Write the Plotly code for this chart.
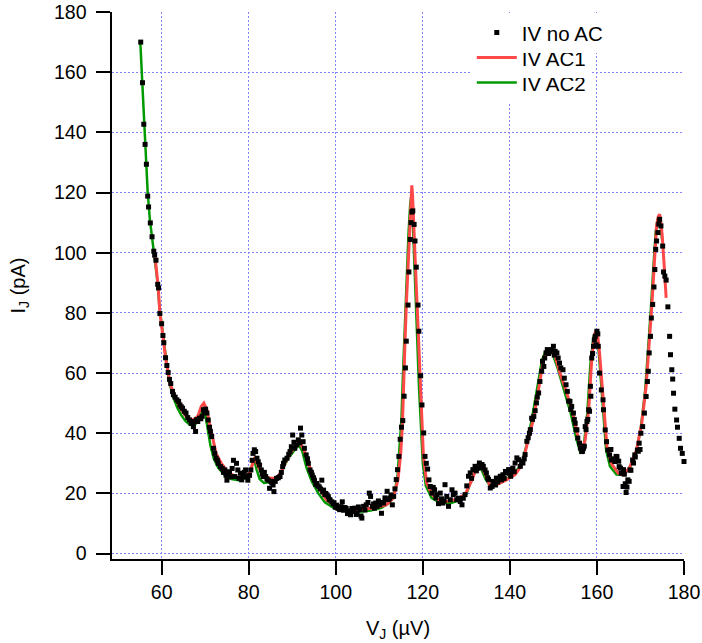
import plotly.graph_objects as go

# ---- IV no AC (measured points) ----
v_noac = [55.2, 55.6, 55.9, 56.2, 56.5, 56.8, 57.0, 57.4, 57.8, 58.2, 58.4, 58.7, 59.1, 59.3, 59.6,
          60.0, 60.3, 60.5, 60.9, 61.2, 61.5, 61.8, 62.1, 62.5, 62.7, 63.1, 63.5, 63.9, 64.2, 64.5,
          64.8, 65.2, 65.6, 66.0, 66.4, 66.8, 67.1, 67.3, 67.5, 67.8, 68.0, 68.3, 68.7, 69.0, 69.3,
          69.6, 69.8, 70.1, 70.4, 70.7, 71.0, 71.2, 71.5, 71.9, 72.2, 72.5, 72.8, 73.0, 73.5, 73.9,
          74.2, 74.5, 74.8, 75.0, 75.3, 75.6, 75.9, 76.2, 76.5, 76.8, 77.2, 77.5, 77.8, 78.1, 78.4,
          78.7, 79.0, 79.3, 79.6, 79.8, 80.2, 80.5, 80.8, 81.0, 81.3, 81.6, 81.9, 82.2, 82.5, 82.9,
          83.1, 83.3, 83.6, 83.9, 84.2, 84.5, 84.8, 85.1, 85.3, 85.6, 85.8, 86.1, 86.4, 86.8, 87.2,
          87.5, 87.8, 88.0, 88.3, 88.8, 89.2, 89.5, 89.8, 90.1, 90.4, 90.6, 91.0, 91.4, 91.7, 91.9,
          92.2, 92.5, 92.8, 93.2, 93.5, 93.7, 94.1, 94.4, 94.6, 94.9, 95.1, 95.4, 95.6, 95.9, 96.2,
          96.5, 96.8, 97.0, 97.2, 97.5, 97.7, 98.0, 98.3, 98.5, 98.7, 99.1, 99.4, 99.6, 99.9, 100.2,
          100.5, 100.9, 101.2, 101.5, 101.8, 102.1, 102.4, 102.7, 103.0, 103.4, 103.7, 104.0, 104.4, 104.7, 104.9,
          105.2, 105.5, 105.8, 106.0, 106.4, 106.7, 107.0, 107.4, 107.7, 108.0, 108.4, 108.7, 108.9, 109.2, 109.5,
          109.8, 110.1, 110.5, 110.8, 111.0, 111.3, 111.5, 111.8, 112.1, 112.4, 112.7, 113.0, 113.3, 113.6, 113.9,
          114.2, 114.5, 114.8, 115.1, 115.4, 115.7, 116.0, 116.2, 116.6, 116.8, 117.1, 117.3, 117.5, 117.7, 118.0,
          118.2, 118.5, 118.9, 119.1, 119.5, 119.8, 120.2, 120.5, 120.8, 121.1, 121.4, 121.7, 122.1, 122.4, 122.7,
          123.0, 123.2, 123.6, 124.0, 124.3, 124.6, 124.9, 125.1, 125.5, 125.9, 126.3, 126.7, 127.0, 127.4, 127.8,
          128.2, 128.6, 129.0, 129.3, 129.7, 130.1, 130.5, 130.9, 131.2, 131.5, 132.0, 132.3, 132.6, 133.0, 133.3,
          133.6, 133.9, 134.3, 134.6, 134.9, 135.1, 135.5, 135.9, 136.1, 136.4, 136.7, 136.9, 137.2, 137.4, 137.8,
          138.1, 138.4, 138.7, 139.0, 139.3, 139.7, 140.0, 140.2, 140.5, 140.7, 141.0, 141.2, 141.6, 142.0, 142.4,
          142.7, 143.0, 143.3, 143.5, 143.9, 144.2, 144.5, 144.7, 145.0, 145.2, 145.5, 145.8, 146.1, 146.3, 146.6,
          146.9, 147.3, 147.5, 147.8, 148.0, 148.3, 148.6, 148.9, 149.2, 149.6, 150.0, 150.2, 150.4, 150.8, 151.1,
          151.4, 151.7, 152.2, 152.5, 152.9, 153.2, 153.5, 153.8, 154.0, 154.2, 154.6, 154.8, 155.0, 155.2, 155.4,
          155.6, 156.0, 156.2, 156.5, 156.7, 156.9, 157.1, 157.3, 157.5, 157.7, 157.9, 158.1, 158.3, 158.5, 158.6,
          158.8, 159.0, 159.2, 159.4, 159.6, 159.8, 160.0, 160.2, 160.3, 160.6, 161.0, 161.4, 161.5, 161.9, 162.2,
          162.5, 162.9, 163.2, 163.3, 163.7, 164.1, 164.4, 164.6, 165.0, 165.1, 165.4, 165.6, 166.0, 166.1, 166.3,
          166.5, 166.7, 166.9, 167.1, 167.4, 167.6, 167.8, 168.2, 168.4, 168.7, 168.8, 169.3, 169.5, 169.7, 169.9,
          170.1, 170.5, 170.9, 171.3, 171.6, 171.8, 172.0, 172.3, 172.5, 172.8, 173.1, 173.3, 173.5, 173.7, 174.0,
          174.2, 174.4, 174.7, 175.1, 175.3, 175.6, 175.9, 176.3, 176.7, 176.9, 177.2, 177.4, 177.6, 177.9, 178.3,
          178.5, 178.9, 179.2, 179.6, 180.0]
i_noac = [170.0, 156.5, 142.7, 136.0, 129.4, 118.8, 115.2, 109.9, 105.3, 100.5, 99.2, 97.5, 89.5, 88.3, 79.8,
          76.4, 72.5, 70.1, 65.1, 62.5, 60.2, 57.9, 56.5, 53.9, 52.8, 52.0, 51.1, 50.6, 49.4, 48.8,
          48.3, 47.3, 46.7, 45.2, 44.4, 43.3, 43.9, 42.2, 43.9, 40.6, 44.5, 43.9, 45.0, 44.8, 45.6,
          47.8, 47.2, 48.0, 46.7, 44.4, 42.0, 40.6, 38.9, 35.0, 33.3, 31.7, 31.0, 30.0, 28.9, 28.3,
          27.0, 27.8, 26.0, 24.4, 26.5, 27.2, 25.5, 28.3, 31.0, 25.6, 30.0, 27.8, 25.0, 26.7, 24.5,
          25.6, 27.0, 27.8, 25.5, 24.4, 26.0, 27.8, 31.0, 33.3, 34.5, 33.9, 31.7, 30.5, 29.4, 27.8,
          26.5, 25.6, 27.0, 25.6, 24.8, 24.4, 21.7, 24.0, 23.5, 22.8, 20.6, 24.0, 25.0, 25.2, 25.6,
          27.0, 28.9, 30.0, 31.1, 31.7, 33.0, 33.9, 35.5, 39.4, 37.0, 35.0, 36.1, 37.8, 36.8, 41.7,
          39.4, 37.2, 35.0, 32.8, 31.5, 30.0, 27.8, 27.0, 26.1, 25.2, 24.4, 23.0, 23.3, 22.5, 22.2,
          21.5, 24.4, 20.5, 21.1, 19.6, 20.0, 19.5, 18.9, 18.0, 17.8, 17.2, 16.5, 16.9, 15.4, 16.1,
          15.0, 14.6, 15.6, 17.2, 14.4, 15.3, 15.0, 13.3, 14.2, 12.9, 15.0, 14.0, 15.1, 13.0, 13.4,
          15.5, 14.6, 12.5, 11.8, 15.7, 14.5, 16.2, 17.0, 20.1, 19.0, 15.7, 16.5, 15.1, 16.8, 15.7,
          17.5, 16.2, 13.4, 17.0, 16.8, 18.5, 17.9, 20.7, 18.0, 18.4, 19.5, 16.2, 19.0, 21.5, 24.6,
          27.9, 32.3, 38.0, 42.0, 44.2, 52.3, 61.7, 70.6, 82.6, 93.6, 104.4, 110.0, 113.5, 113.9, 109.4,
          103.9, 95.2, 82.6, 73.9, 59.1, 49.4, 40.1, 32.3, 30.0, 28.1, 24.5, 22.3, 20.1, 22.0, 21.2,
          18.5, 19.6, 16.6, 20.1, 18.2, 16.8, 17.5, 22.9, 19.0, 15.7, 17.9, 21.2, 19.6, 20.1, 17.9,
          18.4, 17.3, 16.2, 18.4, 19.6, 22.5, 25.7, 26.8, 25.0, 27.9, 29.0, 27.5, 28.4, 30.1, 28.5,
          29.6, 29.0, 27.8, 26.8, 25.2, 24.6, 21.8, 22.3, 24.0, 23.4, 22.8, 25.1, 23.8, 24.6, 25.7,
          24.5, 26.2, 25.0, 27.3, 26.8, 27.9, 26.5, 25.7, 28.0, 28.4, 27.2, 30.1, 31.8, 31.2, 29.0,
          30.5, 30.1, 31.5, 32.9, 37.3, 38.5, 40.0, 41.2, 45.0, 44.6, 45.6, 47.5, 50.1, 52.0, 53.4,
          57.2, 60.6, 63.9, 62.2, 65.0, 66.7, 67.8, 66.5, 67.2, 67.8, 68.9, 66.0, 67.2, 66.7, 65.0,
          63.3, 61.7, 61.1, 58.3, 56.1, 53.9, 50.7, 50.6, 47.9, 48.9, 46.7, 44.6, 43.3, 41.2, 41.1,
          38.4, 36.7, 35.1, 33.9, 34.0, 35.0, 35.7, 42.2, 41.2, 43.9, 44.6, 47.8, 47.3, 55.6, 52.3,
          65.0, 66.5, 68.9, 71.0, 72.2, 69.4, 73.9, 73.0, 68.9, 60.0, 54.4, 51.1, 47.8, 41.1, 37.2,
          34.4, 32.8, 34.6, 31.1, 31.5, 30.6, 32.3, 32.2, 30.7, 28.9, 28.4, 26.7, 22.3, 27.9, 26.4,
          23.2, 20.3, 22.1, 24.5, 24.0, 27.8, 27.7, 31.1, 30.1, 32.8, 32.1, 34.4, 34.0, 36.7, 34.6,
          40.0, 42.2, 46.7, 52.2, 57.2, 60.6, 66.7, 72.2, 78.3, 82.8, 88.6, 94.4, 101.1, 103.9, 106.7,
          109.5, 111.1, 108.9, 102.2, 93.6, 92.2, 90.9, 82.0, 72.2, 66.1, 61.1, 58.0, 53.3, 48.0, 44.4,
          42.0, 38.3, 35.0, 33.3, 30.6]

# ---- IV AC1 (red fit) ----
v_ac1 = [58.5, 59.2, 59.6, 60.0, 60.5, 60.9, 61.4, 62.0, 62.5, 63.2, 64.1, 65.0, 65.6, 66.4, 67.2,
         68.3, 69.1, 69.7, 70.4, 71.0, 71.8, 72.5, 73.7, 75.2, 76.8, 78.7, 80.2, 81.4, 82.2, 83.3,
         84.8, 86.4, 87.5, 88.7, 89.8, 91.0, 91.8, 92.7, 93.7, 94.8, 96.4, 97.9, 100.2, 102.5, 104.5,
         107.0, 109.0, 111.6, 113.2, 114.3, 114.9, 115.3, 115.6, 115.9, 116.2, 116.55, 117.0, 117.3, 117.47, 117.65,
         117.8, 118.2, 118.5, 118.9, 119.3, 119.7, 120.15, 120.9, 122.1, 123.6, 125.5, 127.8, 129.7, 131.3, 132.3,
         132.8, 133.3, 133.9, 135.5, 137.0, 139.3, 141.2, 142.8, 143.9, 145.4, 146.6, 147.7, 148.5, 149.2, 150.4,
         151.5, 153.1, 154.6, 155.8, 156.5, 157.3, 158.1, 158.8, 159.4, 159.85, 160.2, 160.6, 161.2, 161.8, 162.3,
         163.3, 164.9, 166.2, 167.6, 169.1, 170.3, 171.3, 172.0, 172.6, 173.2, 173.7, 174.1, 174.4, 174.7, 175.0,
         175.4, 175.9]
i_ac1 = [98.5, 89.0, 80.0, 76.0, 70.0, 65.0, 60.5, 56.0, 54.4, 51.5, 48.9, 46.8, 45.6, 44.8, 44.4,
         45.6, 48.9, 50.0, 47.8, 43.3, 37.8, 33.3, 30.0, 27.2, 25.6, 25.0, 26.7, 32.0, 28.9, 26.1,
         25.0, 25.0, 27.2, 31.1, 33.9, 36.1, 36.9, 34.4, 30.0, 25.6, 21.1, 17.8, 15.6, 14.6, 14.3,
         14.8, 15.2, 16.2, 18.4, 24.6, 33.0, 42.2, 53.3, 70.0, 82.2, 94.4, 108.9, 118.0, 122.4, 119.0,
         114.4, 102.2, 88.9, 75.6, 60.0, 44.4, 32.0, 23.4, 19.6, 17.9, 17.3, 18.1, 19.6, 24.6, 28.5,
         30.1, 29.5, 27.9, 22.3, 22.9, 24.6, 26.2, 29.6, 35.7, 44.6, 54.6, 64.4, 67.2, 67.8, 65.6,
         60.0, 53.3, 45.6, 37.8, 33.9, 37.8, 47.8, 64.4, 72.5, 74.4, 72.0, 66.7, 55.6, 44.4, 35.6,
         30.0, 26.7, 26.1, 28.9, 34.4, 43.3, 55.6, 68.9, 82.2, 96.7, 108.9, 112.0, 112.8, 110.0, 105.6,
         96.7, 85.0]

# ---- IV AC2 (green fit) ----
v_ac2 = [55.1, 55.5, 55.9, 56.3, 56.8, 57.3, 57.8, 58.4, 59.0, 59.5, 60.0, 60.5, 61.0, 61.5, 62.1,
         62.8, 63.6, 64.5, 65.5, 66.5, 67.5, 68.3, 69.0, 69.5, 70.0, 70.5, 71.2, 72.0, 73.0, 74.5,
         76.0, 78.0, 80.0, 81.0, 81.3, 81.8, 82.5, 83.5, 85.0, 86.5, 87.8, 89.0, 90.5, 91.5, 92.3,
         93.3, 94.5, 96.0, 97.5, 99.5, 102.0, 105.0, 108.0, 110.5, 112.5, 113.5, 114.2, 114.7, 115.1, 115.4,
         115.8, 116.2, 116.7, 117.1, 117.3, 117.55, 117.9, 118.3, 118.7, 119.1, 119.5, 120.0, 120.7, 122.0, 124.0,
         126.5, 128.5, 130.0, 131.2, 132.2, 132.7, 133.3, 134.5, 135.5, 137.5, 139.5, 141.3, 142.8, 144.0, 145.2,
         146.3, 147.4, 148.3, 149.0, 149.8, 151.0, 152.5, 154.0, 155.3, 156.2, 157.0, 157.8, 158.5, 159.2, 159.7,
         160.1, 160.5, 161.0, 161.6, 162.1, 163.0, 164.5, 166.0, 167.5, 169.0, 170.1, 171.1, 171.8, 172.4, 173.0,
         173.5, 173.9, 174.2, 174.6, 175.0]
i_ac2 = [170.0, 157.0, 144.0, 134.0, 120.0, 111.0, 105.0, 99.0, 91.0, 82.0, 76.0, 69.5, 64.0, 59.5, 55.0,
         51.5, 48.5, 46.0, 44.0, 42.8, 42.5, 44.0, 46.5, 48.3, 46.5, 42.0, 36.0, 31.5, 28.5, 26.0,
         24.8, 24.3, 25.5, 30.5, 31.2, 28.0, 24.8, 23.5, 23.8, 24.8, 28.0, 31.5, 34.5, 36.2, 34.0,
         28.5, 24.0, 20.0, 17.0, 15.2, 14.2, 13.8, 14.3, 15.2, 17.0, 20.0, 26.0, 35.0, 45.0, 58.0,
         75.0, 90.0, 106.0, 116.0, 118.5, 116.0, 104.0, 88.0, 72.0, 56.0, 42.0, 30.0, 22.5, 18.5, 16.8,
         16.8, 17.8, 19.8, 24.5, 28.5, 29.8, 28.5, 24.5, 22.5, 23.2, 25.0, 27.0, 30.5, 37.0, 46.0,
         56.0, 64.5, 67.5, 67.8, 66.5, 61.5, 54.0, 46.5, 38.0, 33.5, 36.0, 47.0, 63.0, 72.0, 73.8,
         72.0, 65.5, 55.0, 43.0, 34.5, 29.0, 26.3, 26.1, 28.5, 33.8, 42.0, 54.5, 68.0, 81.5, 96.0,
         107.0, 111.0, 111.5, 109.0, 104.0]

x_ticks = [60, 80, 100, 120, 140, 160, 180]
y_ticks = [0, 20, 40, 60, 80, 100, 120, 140, 160, 180]

FONT = "Liberation Sans, Arial, sans-serif"

fig = go.Figure()
fig.add_trace(go.Scatter(x=v_ac2, y=i_ac2, mode="lines", name="IV AC2",
                         line=dict(color="#009a00", width=2.5), legend="legend"))
fig.add_trace(go.Scatter(x=v_ac1, y=i_ac1, mode="lines", name="IV AC1",
                         line=dict(color="#ff4848", width=3), legend="legend2"))
fig.add_trace(go.Scatter(x=v_noac, y=i_noac, mode="markers", name="IV no AC",
                         marker=dict(symbol="square", size=5, color="black", line=dict(width=0)),
                         cliponaxis=False, legend="legend3"))

axis_common = dict(
    showline=True, linecolor="black", linewidth=2,
    ticks="outside", ticklen=14, tickwidth=2, tickcolor="black",
    showgrid=True, gridcolor="rgb(130,130,255)", gridwidth=1, griddash="2px,2px",
    zeroline=False, mirror=False, ticklabeloverflow="allow",
    tickfont=dict(family=FONT, size=19.6, color="black"),
)

fig.update_xaxes(range=[48.6, 180], tickvals=x_ticks, ticktext=[str(t) for t in x_ticks],
                 title=dict(text="V<sub>J</sub> (µV)", font=dict(family=FONT, size=20, color="black"),
                            standoff=19),
                 **axis_common)
fig.update_yaxes(range=[-1.8, 180], tickvals=y_ticks,
                 ticktext=[str(t) + "\u00a0" for t in y_ticks],
                 title=dict(text="I<sub>J</sub> (pA)", font=dict(family=FONT, size=20, color="black"),
                            standoff=23),
                 **axis_common)

leg_common = dict(xanchor="left", yanchor="middle", bgcolor="white", borderwidth=0,
                  font=dict(family=FONT, size=20.5, color="black"), itemwidth=40)

fig.update_layout(
    width=702, height=643,
    margin=dict(l=112, r=18, t=12, b=84, autoexpand=False),
    paper_bgcolor="white", plot_bgcolor="white",
    font=dict(family=FONT, size=19.6, color="black"),
    showlegend=True,
    legend3=dict(x=0.629, y=0.962, **leg_common),
    legend2=dict(x=0.629, y=0.9164, **leg_common),
    legend=dict(x=0.629, y=0.8707, **leg_common),
)

fig.write_html("out.html", config={"displayModeBar": False},
               post_script="document.body.style.margin='0px';")
